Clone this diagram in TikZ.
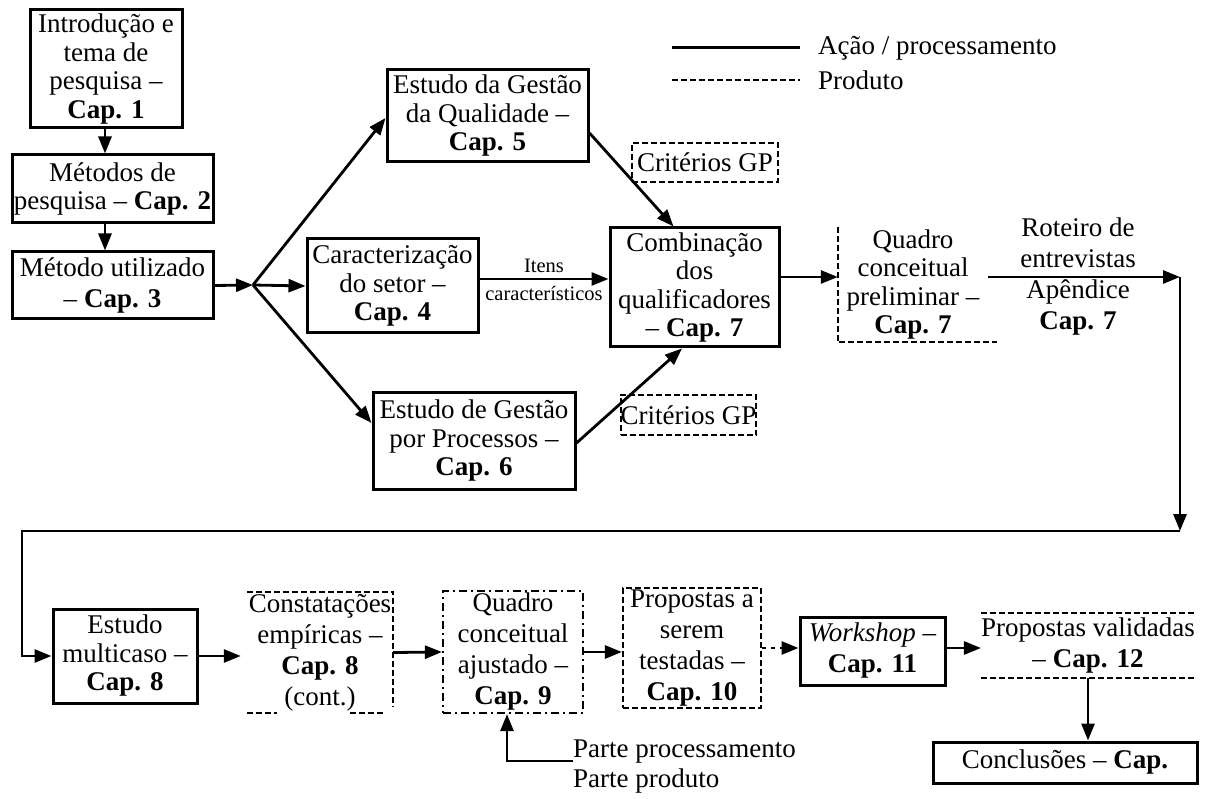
\documentclass[tikz,border=0pt]{standalone}
\usepackage{fontspec}
\setmainfont{Liberation Serif}
\usetikzlibrary{arrows.meta}
\begin{document}
\begin{tikzpicture}[x=1pt,y=-1pt,
  every node/.style={font=\fontsize{27}{28.5}\selectfont, align=center, inner sep=0pt},
  act/.style={draw, line width=3pt},
  prod/.style={draw, line width=2.2pt, dash pattern=on 6pt off 3pt},
  mixbox/.style={draw, line width=2.2pt, dash pattern=on 8pt off 4pt on 2pt off 4pt},
  arr/.style={line width=2.8pt, -{Triangle[length=17pt,width=13pt]}},
  wide/.style={font=\fontsize{27}{31}\selectfont},
  small/.style={font=\fontsize{20.5}{22}\selectfont},
]
\useasboundingbox (0,0) rectangle (1205,799);

% legend
\coordinate (la) at (672,48);
\coordinate (lb) at (800,48);
\coordinate (lc) at (672,80);
\coordinate (ld) at (800,80);
\draw[line width=3pt] (la) -- (lb);
\draw[line width=2.2pt, dash pattern=on 6pt off 3pt] (lc) -- (ld);
\node[anchor=west] (lt1) at (818,48) {Ação / processamento};
\node[anchor=west] (lt2) at (818,80) {Produto};

% left column
\node[act, minimum width=152pt, minimum height=118pt] (n1) at (106,69)
  {Introdução e\\tema de\\pesquisa –\\\textbf{Cap. 1}};
\node[act, minimum width=201pt, minimum height=68pt] (n2) at (112.5,189)
  {Métodos de\\pesquisa – \textbf{Cap. 2}};
\node[act, wide, minimum width=201pt, minimum height=67pt] (n3) at (112.5,285.5)
  {Método utilizado\\– \textbf{Cap. 3}};

% literature studies
\node[act, minimum width=201pt, minimum height=92pt] (n5) at (487.5,116)
  {Estudo da Gestão\\da Qualidade –\\\textbf{Cap. 5}};
\node[act, minimum width=171pt, minimum height=94pt] (n4) at (392.5,286)
  {Caracterização\\do setor –\\\textbf{Cap. 4}};
\node[act, minimum width=202pt, minimum height=96pt] (n6) at (474,441)
  {Estudo de Gestão\\por Processos –\\\textbf{Cap. 6}};
\node[act, minimum width=169pt, minimum height=119pt] (n7) at (694.5,287.5)
  {Combinação\\dos\\qualificadores\\– \textbf{Cap. 7}};

\node[prod, minimum width=146pt, minimum height=39pt] (c1) at (705,162.5) {Critérios GP};
\node[prod, minimum width=133pt, minimum height=40pt] (c2) at (688.5,415) {Critérios GP};

% preliminary framework and interview guide
\node[minimum width=150pt, minimum height=115pt] (qp) at (913,284.5)
  {Quadro\\conceitual\\preliminar –\\\textbf{Cap. 7}};
\draw[prod] (qp.north west) -- (qp.south west) -- ([xshift=9pt]qp.south east);
\node[wide] (rot) at (1078,276.5)
  {Roteiro de\\entrevistas\\Apêndice\\\textbf{Cap. 7}};

\coordinate (j) at (253,285);
\coordinate (tr) at (1180,277);
\coordinate (br) at (1180,531);
\coordinate (bl) at (22,531);

% bottom row
\node[act, minimum width=144pt, minimum height=94pt] (n8) at (125,656)
  {Estudo\\multicaso –\\\textbf{Cap. 8}};
\node[wide, minimum width=146pt, minimum height=121pt] (con) at (320,652.5)
  {Constatações\\empíricas –\\\textbf{Cap. 8}\\(cont.)};
\draw[prod] (con.north west) -- (con.north east) -- ([yshift=6pt]con.south east);
\draw[prod] (con.south west) -- ([xshift=30pt]con.south west);
\draw[prod] ([xshift=103pt]con.south west) -- ([xshift=-8pt]con.south east);
\node[mixbox, wide, minimum width=140pt, minimum height=122pt] (qa) at (513,652)
  {Quadro\\conceitual\\ajustado –\\\textbf{Cap. 9}};
\node[prod, wide, minimum width=138pt, minimum height=120pt] (pt) at (692,648)
  {Propostas a\\serem\\testadas –\\\textbf{Cap. 10}};
\node[act, wide, minimum width=145pt, minimum height=68pt] (ws) at (872.5,651)
  {\textit{Workshop} –\\\textbf{Cap. 11}};
\node[wide, minimum width=210pt, minimum height=65pt] (pv) at (1088,645.5)
  {Propostas validadas\\– \textbf{Cap. 12}};
\draw[prod] (pv.north west) -- (pv.north east);
\draw[prod] (pv.south west) -- (pv.south east);
\node[act, minimum width=264pt, minimum height=41pt] (cc) at (1065,762.5)
  {Conclusões – \textbf{Cap.}};
\node[anchor=north west, wide, align=left] (parte) at (573,740)
  {Parte processamento\\[-1pt]Parte produto};

% connectors
\draw[arr] (n1.south -| 105,0) -- (n2.north -| 105,0);
\draw[arr] (n2.south -| 105,0) -- (n3.north -| 105,0);
\draw[arr] (n3.east) -- (j);
\draw[arr] (j) -- ([yshift=-2pt]n5.west);
\draw[arr] (j) -- (n4.west);
\draw[arr] (j) -- ([yshift=18pt]n6.west);
\draw[arr] ([yshift=-17pt]n5.east) -- ([xshift=-21pt]n7.north);
\draw[arr] ([yshift=-2pt]n6.east) -- ([xshift=-12.5pt]n7.south);
\draw[arr] ([yshift=7pt]n4.east) -- ([yshift=7pt]n4.east -| n7.west)
  node[pos=0.5, above=5pt, small] (it1) {Itens}
  node[pos=0.5, below=6pt, small] (it2) {característicos};
\draw[arr] ([yshift=10.5pt]n7.east) -- ([yshift=10.5pt]n7.east -| qp.west);
\draw[arr] ([yshift=7.5pt]qp.east) -- (tr);
\draw[arr] (tr) -- (br);
\draw[arr] (br) -- (bl) |- (n8.west);
\draw[arr] (n8.east) -- ([xshift=-6pt]n8.east -| con.west);
\draw[arr] (con.east) -- (qa.west);
\draw[arr] (qa.east) -- (qa.east -| pt.west);
\draw[arr, dash pattern=on 4pt off 5pt] (pt.east) -- (pt.east -| ws.west);
\draw[arr] ([yshift=3pt]ws.east) -- ([yshift=3pt]ws.east -| pv.west);
\draw[arr] (pv.south) -- (pv.south |- cc.north);
\draw[arr] ([yshift=-21pt]parte.north west) -| ([xshift=-6pt]qa.south);
\end{tikzpicture}
\end{document}
